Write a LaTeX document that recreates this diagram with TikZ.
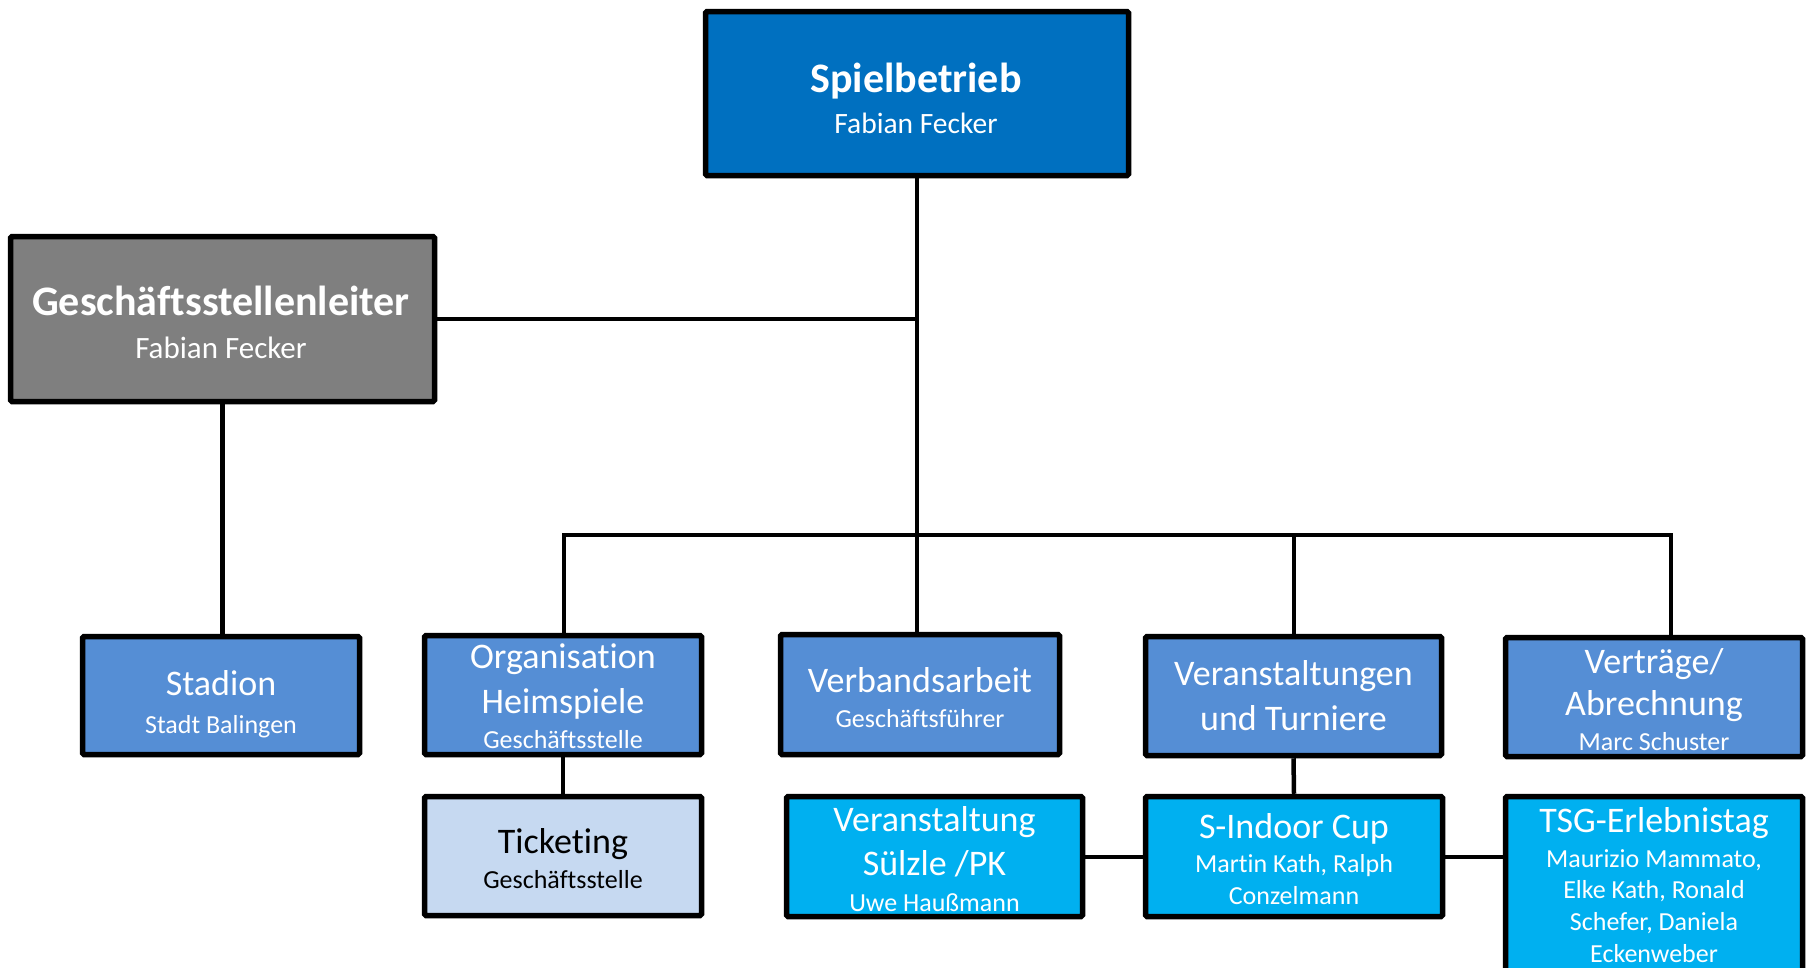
\documentclass[tikz,border=0pt]{standalone}
\usepackage{fontspec}
\setmainfont{Carlito}[Ligatures={NoCommon}]
\definecolor{spielblue}{HTML}{0070C0}
\definecolor{leitgrey}{HTML}{7F7F7F}
\definecolor{midblue}{HTML}{558ED5}
\definecolor{paleblue}{HTML}{C6D9F1}
\definecolor{cyanblue}{HTML}{00B0F0}
\newcommand\szTitle{\fontsize{42}{50}\selectfont\bfseries}
\newcommand\szBig{\fontsize{36}{43}\selectfont}
\newcommand\szSmall{\fontsize{26}{31}\selectfont}
\begin{document}
\begin{tikzpicture}[x=1pt,y=-1pt,
  box/.style={draw=black, line width=5.5pt, rectangle, rounded corners=1.5pt, inner sep=0pt},
  conn/.style={draw=black, line width=4.5pt},
  txt/.style={anchor=base, inner sep=0pt, text=white},
  dtxt/.style={anchor=base, inner sep=0pt, text=black}]
\clip (0,0) rectangle (1810,967);
\fill[white] (0,0) rectangle (1810,967);

% boxes
\node[box, fill=spielblue, minimum width=423pt, minimum height=164pt] (spiel) at (917,93.5) {};
\node[box, fill=leitgrey, minimum width=424pt, minimum height=165pt] (gesch) at (222.5,319) {};
\node[box, fill=midblue, minimum width=277pt, minimum height=118pt] (stadion) at (221,695.5) {};
\node[box, fill=midblue, minimum width=277pt, minimum height=119pt] (org) at (563,695) {};
\node[box, fill=midblue, minimum width=279pt, minimum height=120pt] (verb) at (920,694.5) {};
\node[box, fill=midblue, minimum width=296pt, minimum height=119pt] (vut) at (1293.5,696) {};
\node[box, fill=midblue, minimum width=297pt, minimum height=119pt] (vertr) at (1654,697) {};
\node[box, fill=paleblue, minimum width=277pt, minimum height=119pt] (ticket) at (563,856) {};
\node[box, fill=cyanblue, minimum width=296pt, minimum height=120pt] (suelzle) at (934.5,856.5) {};
\node[box, fill=cyanblue, minimum width=297pt, minimum height=120pt] (sindoor) at (1294,856.5) {};
\node[box, fill=cyanblue, minimum width=297pt, minimum height=201pt] (tsg) at (1654,897) {};

% bus coordinates
\coordinate (j1) at (917,319);
\coordinate (b0) at (564,535);
\coordinate (b1) at (917,535);
\coordinate (b2) at (1294,535);
\coordinate (b3) at (1671,535);

% connectors
\draw[conn] (spiel.south) -- (b1);
\draw[conn] (gesch.east) -- (j1);
\draw[conn] (gesch.south) -- (gesch.south |- stadion.north);
\draw[conn] (b0 |- org.north) -- (b0) -- (b3) -- (b3 |- vertr.north);
\draw[conn] (b1) -- (b1 |- verb.north);
\draw[conn] (b2) -- (b2 |- vut.north);
\draw[conn] (org.south) -- (ticket.north);
\draw[conn] (vut.south) -- (sindoor.north);
\draw[conn] (suelzle.east |- 0,857) -- (sindoor.west |- 0,857);
\draw[conn] (sindoor.east |- 0,857) -- (tsg.west |- 0,857);

% texts
\node[txt, font=\szTitle] (spiel-t1) at (916,92) {Spielbetrieb};
\node[txt, font=\fontsize{29.5}{35}\selectfont] (spiel-t2) at (916,133) {Fabian Fecker};

\node[txt, font=\szTitle] (gesch-t1) at (221,315) {Geschäftsstellenleiter};
\node[txt, font=\fontsize{31}{37}\selectfont] (gesch-t2) at (221,358) {Fabian Fecker};

\node[txt, font=\szBig] (stadion-t1) at (221,695) {Stadion};
\node[txt, font=\szSmall] (stadion-t2) at (221,733) {Stadt Balingen};

\node[txt, font=\szBig] (org-t1) at (563,668) {Organisation};
\node[txt, font=\szBig] (org-t2) at (563,713) {Heimspiele};
\node[txt, font=\szSmall] (org-t3) at (563,748) {Geschäftsstelle};

\node[txt, font=\szBig] (verb-t1) at (920,692) {Verbandsarbeit};
\node[txt, font=\szSmall] (verb-t2) at (920,727) {Geschäftsführer};

\node[txt, font=\szBig] (vut-t1) at (1293.5,685) {Veranstaltungen};
\node[txt, font=\szBig] (vut-t2) at (1293.5,730) {und Turniere};

\node[txt, font=\szBig] (vertr-t1) at (1654,673) {Verträge/};
\node[txt, font=\szBig] (vertr-t2) at (1654,715) {Abrechnung};
\node[txt, font=\szSmall] (vertr-t3) at (1654,750) {Marc Schuster};

\node[dtxt, font=\szBig] (ticket-t1) at (563,853) {Ticketing};
\node[dtxt, font=\szSmall] (ticket-t2) at (563,888) {Geschäftsstelle};

\node[txt, font=\szBig] (suelzle-t1) at (934.5,831) {Veranstaltung};
\node[txt, font=\szBig] (suelzle-t2) at (934.5,875) {Sülzle /PK};
\node[txt, font=\szSmall] (suelzle-t3) at (934.5,911) {Uwe Haußmann};

\node[txt, font=\szBig] (sindoor-t1) at (1294,838) {S-Indoor Cup};
\node[txt, font=\szSmall] (sindoor-t2) at (1294,872) {Martin Kath, Ralph};
\node[txt, font=\szSmall] (sindoor-t3) at (1294,904) {Conzelmann};

\node[txt, font=\szBig] (tsg-t1) at (1654,832) {TSG-Erlebnistag};
\node[txt, font=\szSmall] (tsg-t2) at (1654,867) {Maurizio Mammato,};
\node[txt, font=\szSmall] (tsg-t3) at (1654,898) {Elke Kath, Ronald};
\node[txt, font=\szSmall] (tsg-t4) at (1654,930) {Schefer, Daniela};
\node[txt, font=\szSmall] (tsg-t5) at (1654,962) {Eckenweber};
\end{tikzpicture}
\end{document}
